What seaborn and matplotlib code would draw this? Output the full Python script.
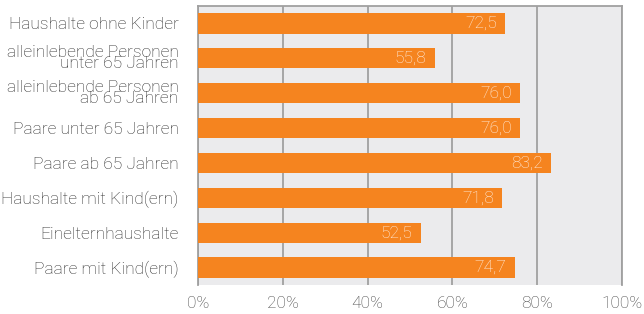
import numpy as np
import pandas as pd
import matplotlib
matplotlib.use("Agg")
import matplotlib.pyplot as plt
import seaborn as sns

kategorien = [
    "Haushalte ohne Kinder",
    "alleinlebende Personen\nunter 65 Jahren",
    "alleinlebende Personen\nab 65 Jahren",
    "Paare unter 65 Jahren",
    "Paare ab 65 Jahren",
    "Haushalte mit Kind(ern)",
    "Einelternhaushalte",
    "Paare mit Kind(ern)",
]
werte = [72.5, 55.8, 76.0, 76.0, 83.2, 71.8, 52.5, 74.7]
xticks = [0, 20, 40, 60, 80, 100]

df = pd.DataFrame({"Kategorie": kategorien, "Wert": werte})

sns.set_style("white")
plt.rcParams["font.family"] = ["Roboto", "DejaVu Sans"]

fig = plt.figure(figsize=(6.44, 3.14), dpi=100)
ax = fig.add_axes([198 / 644, 29 / 314, 424 / 644, 279 / 314])
ax.set_facecolor("#EBEBED")

sns.barplot(data=df, x="Wert", y="Kategorie", orient="h", color="#F5841F",
            saturation=1, width=0.58, linewidth=0, ax=ax, zorder=3)

for i, v in enumerate(werte):
    ax.text(v - 1.9, i, f"{v:.1f}".replace(".", ","), ha="right", va="center",
            color="#FFF0E4", fontsize=12.5, fontweight="light", zorder=4)

ax.set_xlim(0, 100)
ax.set_xticks(xticks)
ax.set_xticklabels([f"{t}%" for t in xticks], fontsize=12.5, color="#444444",
                   fontweight="light")
ax.tick_params(axis="x", length=4, color="#A0A0A0", width=1.3, pad=4)
ax.tick_params(axis="y", length=0, pad=14)
for lbl in ax.get_yticklabels():
    lbl.set_fontsize(12.5)
    lbl.set_color("#2A2A2A")
    lbl.set_fontweight("light")
    lbl.set_linespacing(0.72)
ax.xaxis.grid(True, color="#A0A0A0", linewidth=1.3, zorder=1)
ax.set_axisbelow(True)
ax.set_xlabel("")
ax.set_ylabel("")
for s in ["left", "top", "right"]:
    ax.spines[s].set_color("#A0A0A0")
    ax.spines[s].set_linewidth(1.3)
ax.spines["bottom"].set_visible(False)

fig.savefig("out.png", dpi=100)
